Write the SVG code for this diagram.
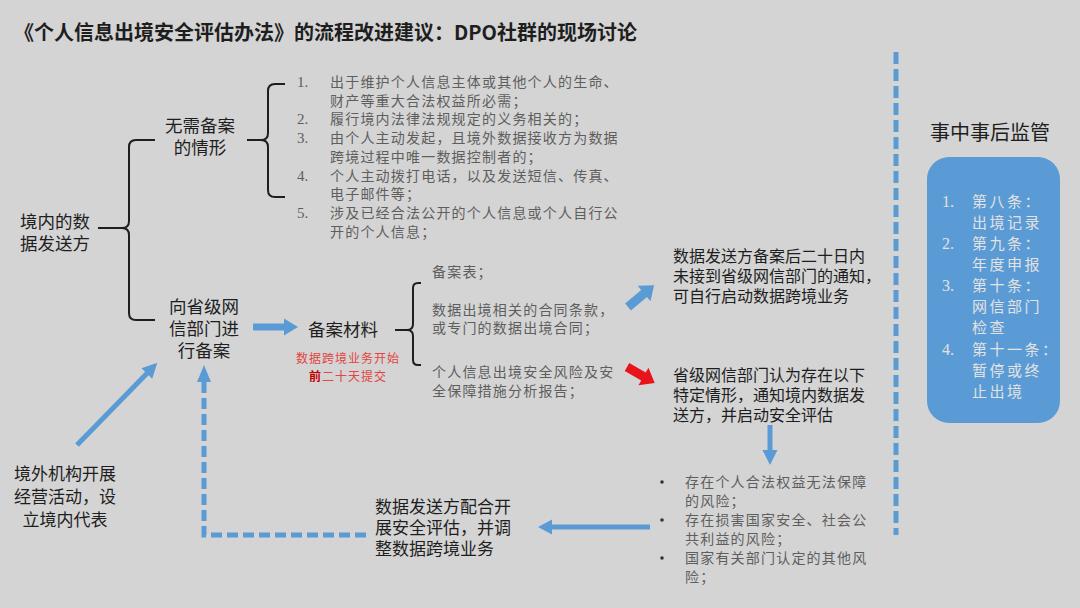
<svg xmlns="http://www.w3.org/2000/svg" width="1080" height="608" viewBox="0 0 1080 608">
<style>
.sans{font-family:"Liberation Sans","Noto Sans CJK SC",sans-serif;fill:#1e1e1e}
.lbl{font-size:17.5px}
.lbl17{font-size:17px}
.lbl16{font-size:16px}
.lst{font-family:"Liberation Sans","Noto Sans CJK SC",sans-serif;font-size:14px;fill:#5e5e5e;letter-spacing:1.2px}
.num{font-family:"Liberation Serif",serif;font-size:15px;fill:#5e5e5e}
.brace{fill:none;stroke:#1e1e1e;stroke-width:2}
.blue{fill:#5b9bd5}
.dash{fill:none;stroke:#5b9bd5;stroke-width:5}
.pnl{font-family:"Liberation Sans","Noto Sans CJK SC",sans-serif;font-size:15px;fill:#e2e2e2;letter-spacing:2.5px}
.pnum{font-family:"Liberation Serif",serif;font-size:16px;fill:#e2e2e2}
</style>
<rect width="1080" height="608" fill="#d4d4d4"/>

<text x="14" y="40" font-family="Noto Sans CJK SC,sans-serif" fill="#1e1e1e" font-size="20" font-weight="bold">《个人信息出境安全评估办法》的流程改进建议：DPO社群的现场讨论</text>

<g id="sender">
<text class="sans lbl"><tspan x="20" y="228">境内的数</tspan><tspan x="20" y="250">据发送方</tspan></text>
<path class="brace" d="M155,140 H136 Q129,140 129,147 V221 Q129,228 122,228 H98 M122,228 Q129,228 129,235 V313 Q129,320 136,320 H155"/>
</g>

<g id="no-filing">
<text class="sans lbl" text-anchor="middle"><tspan x="200" y="132">无需备案</tspan><tspan x="200" y="154">的情形</tspan></text>
<path class="brace" d="M285,84 H275 Q268,84 268,91 V133 Q268,140 261,140 H247 M261,140 Q268,140 268,147 V190 Q268,197 275,197 H285"/>
</g>

<g id="no-filing-list">
<text class="num"><tspan x="297" y="87">1.</tspan><tspan x="297" y="124">2.</tspan><tspan x="297" y="143">3.</tspan><tspan x="297" y="181">4.</tspan><tspan x="297" y="218">5.</tspan></text>
<text class="lst"><tspan x="330" y="87">出于维护个人信息主体或其他个人的生命、</tspan><tspan x="330" y="106">财产等重大合法权益所必需；</tspan><tspan x="330" y="124">履行境内法律法规规定的义务相关的；</tspan><tspan x="330" y="143">由个人主动发起，且境外数据接收方为数据</tspan><tspan x="330" y="162">跨境过程中唯一数据控制者的；</tspan><tspan x="330" y="181">个人主动拨打电话，以及发送短信、传真、</tspan><tspan x="330" y="199">电子邮件等；</tspan><tspan x="330" y="218">涉及已经合法公开的个人信息或个人自行公</tspan><tspan x="330" y="237">开的个人信息；</tspan></text>
</g>

<g id="filing">
<text class="sans lbl" text-anchor="middle"><tspan x="204" y="313">向省级网</tspan><tspan x="204" y="335">信部门进</tspan><tspan x="204" y="357">行备案</tspan></text>
</g>

<g id="materials">
<text class="sans lbl" x="343" y="336" text-anchor="middle">备案材料</text>
<text text-anchor="middle" font-family="Liberation Sans,Noto Sans CJK SC,sans-serif" font-size="12" fill="#e2453f" letter-spacing="1"><tspan x="348" y="363">数据跨境业务开始</tspan><tspan x="348" y="381"><tspan font-weight="bold" fill="#c00000">前</tspan>二十天提交</tspan></text>
<path class="brace" d="M421,283 H418 Q413,283 413,288 V324 Q413,330 407,330 H395 M407,330 Q413,330 413,336 V360 Q413,365 418,365 H421"/>
</g>

<g id="materials-list">
<text class="lst" x="432" y="277">备案表；</text>
<text class="lst"><tspan x="432" y="315">数据出境相关的合同条款，</tspan><tspan x="432" y="333">或专门的数据出境合同；</tspan></text>
<text class="lst"><tspan x="432" y="377">个人信息出境安全风险及安</tspan><tspan x="432" y="396">全保障措施分析报告；</tspan></text>
</g>

<g id="auto-start">
<text class="sans lbl16"><tspan x="673" y="262">数据发送方备案后二十日内</tspan><tspan x="673" y="282">未接到省级网信部门的通知，</tspan><tspan x="673" y="302">可自行启动数据跨境业务</tspan></text>
</g>

<g id="assessment">
<text class="sans lbl16"><tspan x="673" y="381">省级网信部门认为存在以下</tspan><tspan x="673" y="401">特定情形，通知境内数据发</tspan><tspan x="673" y="421">送方，并启动安全评估</tspan></text>
</g>

<g id="risks">
<circle cx="662" cy="482" r="1.8" fill="#333"/>
<circle cx="662" cy="520" r="1.8" fill="#333"/>
<circle cx="662" cy="558" r="1.8" fill="#333"/>
<text class="lst"><tspan x="685" y="487">存在个人合法权益无法保障</tspan><tspan x="685" y="506">的风险；</tspan><tspan x="685" y="525">存在损害国家安全、社会公</tspan><tspan x="685" y="544">共利益的风险；</tspan><tspan x="685" y="563">国家有关部门认定的其他风</tspan><tspan x="685" y="582">险；</tspan></text>
</g>

<g id="adjust">
<text class="sans lbl17"><tspan x="375" y="513">数据发送方配合开</tspan><tspan x="375" y="534">展安全评估，并调</tspan><tspan x="375" y="555">整数据跨境业务</tspan></text>
</g>

<g id="foreign">
<text class="sans lbl17" text-anchor="middle"><tspan x="65" y="480">境外机构开展</tspan><tspan x="65" y="503">经营活动，设</tspan><tspan x="65" y="526">立境内代表</tspan></text>
</g>

<g id="supervision">
<text class="sans" font-size="20" x="990" y="140" text-anchor="middle">事中事后监管</text>
<rect x="927" y="157" width="133" height="266" rx="22" fill="#5b9bd5"/>
<text class="pnum"><tspan x="942" y="207">1.</tspan><tspan x="942" y="249">2.</tspan><tspan x="942" y="291">3.</tspan><tspan x="942" y="355">4.</tspan></text>
<text class="pnl"><tspan x="972" y="207">第八条：</tspan><tspan x="972" y="228">出境记录</tspan><tspan x="972" y="249">第九条：</tspan><tspan x="972" y="270">年度申报</tspan><tspan x="972" y="291">第十条：</tspan><tspan x="972" y="312">网信部门</tspan><tspan x="972" y="333">检查</tspan><tspan x="972" y="355">第十一条：</tspan><tspan x="972" y="376">暂停或终</tspan><tspan x="972" y="397">止出境</tspan></text>
</g>

<g id="connectors">
<polygon class="blue" transform="translate(253,327)" points="0,-3.5 31,-3.5 31,-8.5 45,0 31,8.5 31,3.5 0,3.5"/>
<polygon class="blue" transform="translate(628,307) rotate(-40)" points="0,-4.5 21,-4.5 21,-10 34,0 21,10 21,4.5 0,4.5"/>
<polygon fill="#e8141b" transform="translate(627,367) rotate(30)" points="0,-4.5 19,-4.5 19,-10 32,0 19,10 19,4.5 0,4.5"/>
<polygon class="blue" transform="translate(770,425) rotate(90)" points="0,-2.5 25,-2.5 25,-7.5 40,0 25,7.5 25,2.5 0,2.5"/>
<polygon class="blue" transform="translate(650,527) rotate(180)" points="0,-2.5 98,-2.5 98,-7.5 112,0 98,7.5 98,2.5 0,2.5"/>
<polygon class="blue" transform="translate(77,445) rotate(-45.7)" points="0,-2.5 100,-2.5 100,-7.5 115,0 100,7.5 100,2.5 0,2.5"/>
<path class="dash" d="M366,535 H204 V382" stroke-dasharray="11 5"/>
<polygon class="blue" points="204,365 211,382 197,382"/>
<line class="dash" x1="896" y1="52" x2="896" y2="535" stroke-dasharray="12 5"/>
</g>
</svg>
